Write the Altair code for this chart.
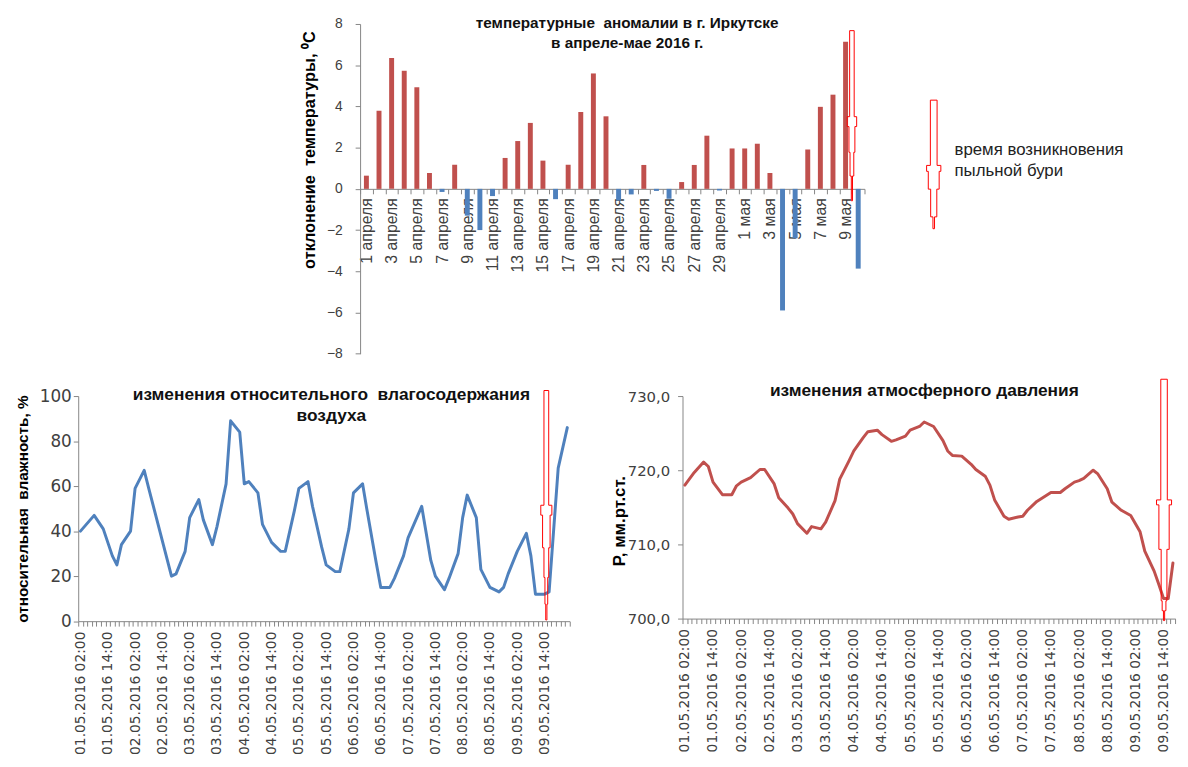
import altair as alt
import pandas as pd

RED = "#C0504D"
BLUE = "#4F81BD"
ARROW = "#FF0000"
AXIS = "#868686"
TXT = "#404040"
SANS = "Liberation Sans"
WIDE = "DejaVu Sans"
NB = "\u00a0"

# ---------------- top chart: temperature anomalies (1 April - 10 May 2016)
days = [f"{d} апреля" for d in range(1, 31)] + [f"{d} мая" for d in range(1, 11)]
anomaly = [0.64, 3.79, 6.35, 5.73, 4.93, 0.77, -0.15, 1.17, -1.3, -2.0,
           -0.35, 1.5, 2.32, 3.2, 1.37, -0.5, 1.17, 3.73, 5.6, 3.52,
           -0.57, -0.27, 1.16, -0.1, -0.48, 0.33, 1.16, 2.58, -0.08, 1.96,
           1.96, 2.19, 0.77, -5.9, -2.4, 1.91, 3.98, 4.57, 7.14, -3.87]
storm_day = "9 мая"

# ---------------- bottom charts: 2-hourly series, 01.05.2016 02:00 ...
times = pd.date_range("2016-05-01 02:00", periods=108, freq="2h").strftime("%d.%m.%Y %H:%M").tolist()
storm_time = "09.05.2016 14:00"

hum_idx = [0, 3, 5, 7, 8, 9, 11, 12, 14, 15, 20, 21, 23, 24, 26, 27, 29, 30, 32, 33,
           35, 36, 37, 39, 40, 42, 44, 45, 47, 48, 50, 51, 53, 54, 56, 57, 59, 60, 62, 63,
           65, 66, 68, 69, 71, 72, 75, 77, 78, 80, 81, 83, 84, 85, 87, 88, 90, 92, 93, 94,
           96, 98, 99, 100, 102, 103, 105, 107]
hum_val = [40, 47, 41, 29, 25, 34, 40, 59, 67, 59, 20, 21, 31, 46, 54, 45, 34, 42, 61, 89,
           84, 61, 62, 57, 43, 35, 31, 31, 49, 59, 62, 51, 33, 25, 22, 22, 41, 57, 61, 49,
           26, 15, 15, 19, 29, 37, 51, 27, 20, 14, 19, 30, 46, 56, 46, 23, 15, 13, 15, 21,
           31, 39, 29, 12, 12, 13, 68, 86]

pres_idx = [0, 2, 4, 5, 6, 8, 10, 11, 12, 14, 16, 17, 19, 20, 22, 23, 24, 26, 27, 29,
            30, 32, 33, 35, 36, 38, 39, 41, 42, 44, 45, 47, 48, 50, 51, 53, 55, 56, 57, 59,
            61, 62, 64, 65, 66, 68, 69, 71, 72, 73, 75, 77, 78, 80, 81, 83, 84, 85, 87, 88,
            90, 91, 93, 95, 97, 98, 100, 101, 102, 103, 104, 105, 106, 107]
pres_val = [718.0, 719.7, 721.1, 720.5, 718.4, 716.7, 716.7, 717.9, 718.4, 719.0,
            720.1, 720.1, 718.2, 716.3, 714.9, 714.1, 712.8, 711.5, 712.4, 712.1,
            713.0, 715.9, 718.8, 721.3, 722.6, 724.4, 725.2, 725.4, 724.8, 723.9,
            724.1, 724.6, 725.4, 725.9, 726.5, 725.9, 724.0, 722.6, 722.0, 721.9,
            720.8, 720.1, 719.2, 718.0, 716.0, 713.8, 713.4, 713.7, 713.8, 714.6,
            715.8, 716.6, 717.0, 717.0, 717.5, 718.4, 718.6, 718.9, 720.0, 719.5,
            717.5, 715.7, 714.6, 713.9, 711.7, 709.1, 706.4, 704.6, 702.7, 702.7,
            707.5, 713.0, 717.5, 720.0]

# the pressure panel is cut by the right edge of the picture
N_RIGHT = 105
times_right = times[:N_RIGHT]


def arrow_path(total, segs):
    """Outlined red arrow; segs = (top, bottom, half-width) in px from the top."""
    s = total / 2.0
    right = []
    for y0, y1, hw in segs:
        right += [(hw, y0), (hw, y1)]
    left = [(-x, y) for x, y in reversed(right)]
    pts = right + left
    return "M" + " L".join(f"{x / s:.4f},{y / s - 1:.4f}" for x, y in pts) + " Z"


one = pd.DataFrame({"a": [0]})

# ================= TOP CHART =================
W_TOP, H_TOP = 510, 333.4
top_df = pd.DataFrame({"day": days, "v": anomaly,
                       "sign": ["pos" if v > 0 else "neg" for v in anomaly]})

x_top = alt.X("day:N", scale=alt.Scale(domain=days, paddingInner=0, paddingOuter=0),
              axis=alt.Axis(title=None, orient="bottom", offset=-H_TOP / 2, labelAngle=-90,
                            labelExpr="parseInt(split(datum.label, ' ')[0]) % 2 == 1 ? datum.label : ''",
                            labelOverlap=False, tickBand="extent", tickSize=5,
                            domainColor=AXIS, tickColor=AXIS, labelFont=SANS, labelFontSize=16,
                            labelColor=TXT, labelPadding=4))
y_top = alt.Y("v:Q", scale=alt.Scale(domain=[-8, 8], nice=False),
              axis=alt.Axis(values=list(range(-8, 9, 2)), grid=False,
                            title="отклонение" + NB + " температуры, ⁰С", titleFont=SANS,
                            titleFontSize=16.5, titleFontWeight="bold", titleColor="#000",
                            titleAngle=-90, titleX=-51, titleY=127, titleAlign="center",
                            titleBaseline="middle", domainColor=AXIS, tickColor=AXIS,
                            tickSize=5, labelFont=SANS, labelFontSize=14, labelColor=TXT,
                            labelPadding=13))

bars = alt.Chart(top_df).mark_bar(size=5).encode(
    x=x_top, y=y_top,
    color=alt.Color("sign:N", scale=alt.Scale(domain=["pos", "neg"], range=[RED, BLUE]), legend=None))

top_arrow = alt.Chart(pd.DataFrame({"day": [storm_day], "v": [3.55]})).mark_point(
    shape=arrow_path(172, [(0, 87, 2.3), (87, 97, 4.8), (97, 123, 3), (123, 147, 1.9), (147, 172, 0.6)]),
    size=172 ** 2, filled=False, color=ARROW, strokeWidth=1, opacity=1, xOffset=6.4
).encode(x="day:N", y="v:Q")

legend_arrow = alt.Chart(one).mark_point(
    shape=arrow_path(130, [(0, 66, 3.4), (66, 72, 7.2), (72, 90, 5.5), (90, 118, 3.1), (118, 130, 0.8)]),
    size=130 ** 2, filled=False, color=ARROW, strokeWidth=1, opacity=1
).encode(x=alt.value(580), y=alt.value(142))

legend_text = alt.Chart(one).mark_text(
    text=["время возникновения", "пыльной бури"], align="left", baseline="middle",
    font=SANS, fontSize=17, lineHeight=22, color="#222"
).encode(x=alt.value(601), y=alt.value(127))

top_title = alt.Chart(one).mark_text(
    text=["температурные" + NB + " аномалии в г. Иркутске", "в апреле-мае 2016 г."],
    align="center", baseline="alphabetic", font=SANS, fontSize=15.5, fontWeight="bold",
    lineHeight=20.4, color="#111"
).encode(x=alt.value(270), y=alt.value(4.3))

top = alt.layer(bars, top_arrow, legend_arrow, legend_text, top_title).properties(
    width=W_TOP, height=H_TOP)

W_SP = 285
spacer = alt.Chart(one).mark_rect(opacity=0).encode(
    x=alt.value(0), x2=alt.value(W_SP), y=alt.value(0), y2=alt.value(1)
).properties(width=W_SP, height=1)


# ================= BOTTOM CHARTS =================
def time_x(field, domain):
    return alt.X(f"{field}:N", scale=alt.Scale(type="band", domain=domain, paddingInner=0, paddingOuter=0),
                 axis=alt.Axis(title=None, labelAngle=-90, labelOverlap=False,
                               labelExpr="(indexof(datum.label, '02:00') > 0 || indexof(datum.label, '14:00') > 0) ? datum.label : ''",
                               tickBand="extent", tickSize=5, domainColor=AXIS, tickColor=AXIS,
                               labelFont=WIDE, labelFontSize=14, labelColor=TXT, labelPadding=5))


W_L, H_L = 496.8, 227.6
hum_df = pd.DataFrame({"t": [times[i] for i in hum_idx], "h": hum_val, "i": hum_idx})
hum_line = alt.Chart(hum_df).mark_line(color=BLUE, strokeWidth=3, strokeJoin="round", strokeCap="round").encode(
    x=time_x("t", times),
    y=alt.Y("h:Q", scale=alt.Scale(domain=[0, 100], nice=False),
            axis=alt.Axis(values=list(range(0, 101, 10)), grid=False,
                          title="относительная" + NB + " влажность, %", titleFont=SANS, titleFontSize=15.5,
                          titleFontWeight="bold", titleColor="#000", titleAngle=-90,
                          titleX=-56, titleY=H_L / 2, titleAlign="center", titleBaseline="middle",
                          domainColor=AXIS, tickColor=AXIS, tickSize=5,
                          labelFont=WIDE, labelFontSize=17, labelColor=TXT, labelPadding=2)),
    order="i:Q")
hum_arrow = alt.Chart(pd.DataFrame({"t": [storm_time], "h": [51.5]})).mark_point(
    shape=arrow_path(232, [(0, 116, 2.4), (116, 126, 5.6), (126, 159, 3.8), (159, 189, 2.4), (189, 216, 1.4), (216, 232, 0.6)]),
    size=232 ** 2, filled=False, color=ARROW, strokeWidth=1, opacity=1, xOffset=1.8
).encode(x="t:N", y="h:Q")
hum_title = alt.Chart(one).mark_text(
    text=["изменения относительного" + NB + " влагосодержания", "воздуха"],
    align="center", baseline="alphabetic", font=SANS, fontSize=17.5, fontWeight="bold",
    lineHeight=21, color="#111"
).encode(x=alt.value(256), y=alt.value(4))
left = alt.layer(hum_line, hum_arrow, hum_title).properties(width=W_L, height=H_L)

CAT_R = 4.745
W_R, H_R = CAT_R * N_RIGHT, 225
pres_df = pd.DataFrame({"t": [times[i] for i in pres_idx], "p": pres_val, "i": pres_idx})
pres_df = pres_df[pres_df["i"] < N_RIGHT]
pres_line = alt.Chart(pres_df).mark_line(color=RED, strokeWidth=3, strokeJoin="round", strokeCap="round").encode(
    x=time_x("t", times_right),
    y=alt.Y("p:Q", scale=alt.Scale(domain=[700, 730], nice=False),
            axis=alt.Axis(values=list(range(700, 731, 5)), grid=False,
                          labelExpr="replace(format(datum.value, '.1f'), '.', ',')",
                          title="P, мм.рт.ст.", titleFont=SANS, titleFontSize=17,
                          titleFontWeight="bold", titleColor="#000", titleAngle=-90,
                          titleX=-64, titleY=126, titleAlign="center", titleBaseline="middle",
                          domainColor=AXIS, tickColor=AXIS, tickSize=5,
                          labelFont=WIDE, labelFontSize=15, labelColor=TXT, labelPadding=8)),
    order="i:Q")
pres_arrow = alt.Chart(pd.DataFrame({"t": [storm_time], "p": [716.0]})).mark_point(
    shape=arrow_path(244, [(0, 122, 3.3), (122, 127, 7.6), (127, 172, 5.2), (172, 224, 2.9), (224, 234, 1.9), (234, 244, 0.6)]),
    size=244 ** 2, filled=False, color=ARROW, strokeWidth=1, opacity=1, xOffset=0.5
).encode(x="t:N", y="p:Q")
pres_title = alt.Chart(one).mark_text(
    text="изменения атмосферного давления", align="center", baseline="alphabetic",
    font=SANS, fontSize=17.5, fontWeight="bold", color="#111"
).encode(x=alt.value(244.5), y=alt.value(0))
right = alt.layer(pres_line, pres_arrow, pres_title).properties(width=W_R, height=H_R)

row1 = alt.hconcat(spacer, top, spacing=0, bounds="flush").resolve_scale(x="independent", y="independent")
row2 = alt.hconcat(left, right, spacing=114, bounds="flush").resolve_scale(x="independent", y="independent")

chart = alt.vconcat(row1, row2, spacing=16.2).resolve_scale(
    x="independent", y="independent", color="independent"
).properties(padding={"left": 7, "top": 4, "right": 0, "bottom": 0}).configure_view(stroke=None)

chart.save("out.html", embed_options={"renderer": "svg", "actions": False})
